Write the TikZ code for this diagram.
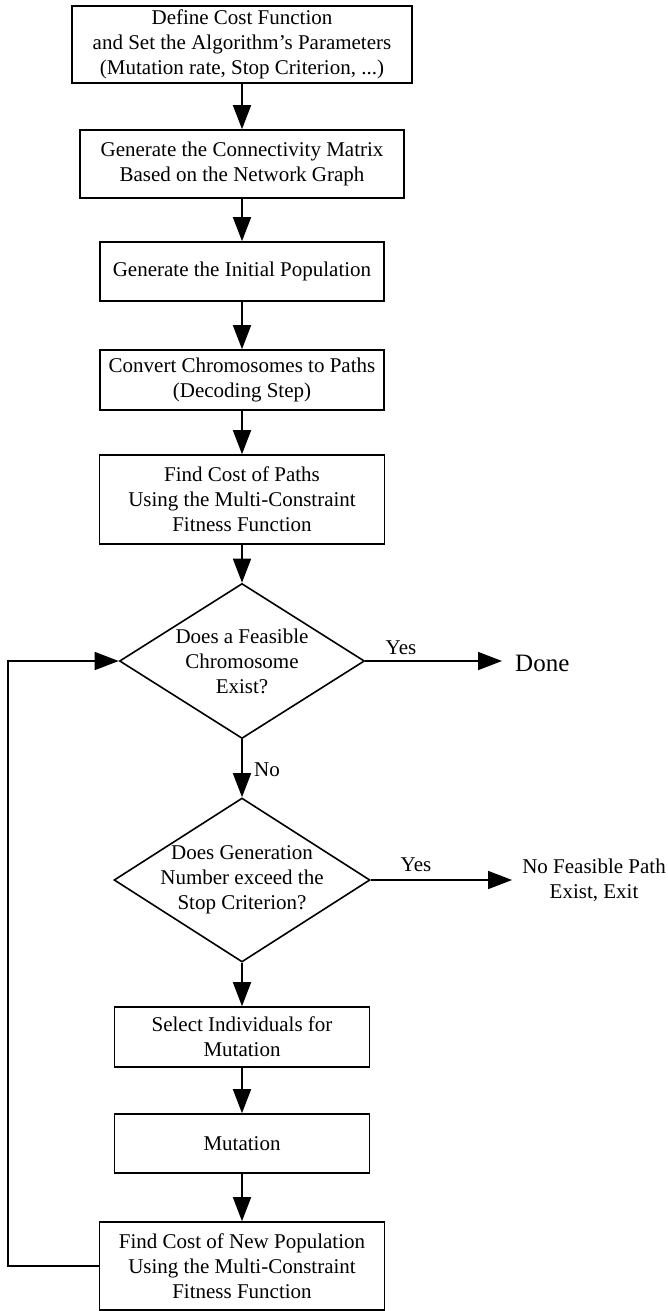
\documentclass[tikz,border=0pt]{standalone}
\usepackage{fontspec}
\setmainfont{Liberation Serif}
\usetikzlibrary{arrows.meta,shapes.geometric}
\begin{document}
\begin{tikzpicture}[x=1pt,y=-1pt,
  box/.style={draw, line width=1.6pt, align=center, inner sep=0pt, font=\fontsize{21}{25}\selectfont},
  dia/.style={draw, diamond, line width=1.6pt, inner sep=0pt},
  txt/.style={align=center, inner sep=0pt, font=\fontsize{21}{25}\selectfont},
  arr/.style={line width=1.6pt, -{Triangle[length=24pt,width=18pt]}}]
\useasboundingbox (0,0) rectangle (668,1311);

\node[box, minimum width=340pt, minimum height=77pt] (b1) at (242,44.5) {Define Cost Function\\and Set the Algorithm’s Parameters\\(Mutation rate, Stop Criterion, ...)};
\node[box, minimum width=324pt, minimum height=68pt] (b2) at (242,164) {Generate the Connectivity Matrix\\Based on the Network Graph};
\node[box, minimum width=284pt, minimum height=59pt] (b3) at (242,271.5) {Generate the Initial Population};
\node[box, minimum width=284pt, minimum height=60pt] (b4) at (242,380) {Convert Chromosomes to Paths\\(Decoding Step)};
\node[box, minimum width=285pt, minimum height=89pt] (b5) at (242,499.5) {Find Cost of Paths\\Using the Multi-Constraint\\Fitness Function};

\node[dia, minimum width=245pt, minimum height=155pt] (d1) at (242,661) {};
\node[txt] (d1t) at (d1.center) {Does a Feasible\\Chromosome\\Exist?};
\node[dia, minimum width=256pt, minimum height=164pt] (d2) at (242,880) {};
\node[txt] (d2t) at (d2.center) {Does Generation\\Number exceed the\\Stop Criterion?};

\node[box, minimum width=255pt, minimum height=60pt] (b6) at (242,1037) {Select Individuals for\\Mutation};
\node[box, minimum width=255pt, minimum height=59pt] (b7) at (242,1143.5) {Mutation};
\node[box, minimum width=285pt, minimum height=88pt] (b8) at (242,1266) {Find Cost of New Population\\Using the Multi-Constraint\\Fitness Function};

\node[anchor=west, inner sep=0pt, font=\fontsize{25}{29}\selectfont] (done) at (515,663) {Done};
\node[txt] (nofeas) at (594,880) {No Feasible Path\\Exist, Exit};
\node[txt] (y1) at (401,648) {Yes};
\node[txt] (y2) at (416,865) {Yes};
\node[txt] (n1) at (267,770) {No};

\draw[arr] (b1) -- (b2);
\draw[arr] (b2) -- (b3);
\draw[arr] (b3) -- (b4);
\draw[arr] (b4) -- (b5);
\draw[arr] (b5) -- (d1);
\draw[arr] (d1) -- (d2);
\draw[arr] (d2) -- (b6);
\draw[arr] (b6) -- (b7);
\draw[arr] (b7) -- (b8);
\draw[arr, shorten >=13pt] (d1.east) -- (d1.east -| done.west);
\draw[arr, shorten >=10pt] (d2.east) -- (d2.east -| nofeas.west);
\coordinate (fbx) at (8,0);
\draw[arr] (b8.west) -- (b8.west -| fbx) -- (d1.west -| fbx) -- (d1.west);
\end{tikzpicture}
\end{document}
